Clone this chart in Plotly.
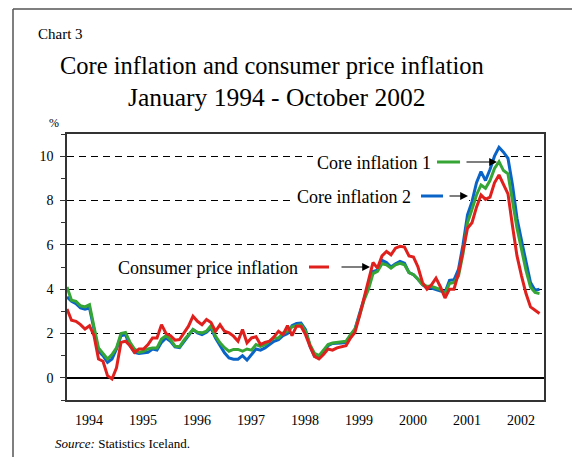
import plotly.graph_objects as go

# Monthly data, January 1994 - October 2002 (month index 0..105)
cpi = [3.1, 2.6, 2.55, 2.4, 2.2, 2.35, 1.9, 0.85, 0.75, 0.1, -0.05, 0.45,
       1.6, 1.65, 1.45, 1.15, 1.3, 1.3, 1.5, 1.8, 1.8, 2.4, 2.0, 1.9,
       1.7, 1.73, 2.03, 2.33, 2.78, 2.55, 2.4, 2.63, 2.5, 2.1, 2.4, 2.1,
       2.03, 1.88, 1.65, 2.18, 1.58, 1.8, 1.85, 1.5, 1.6, 1.65, 1.85, 2.1,
       1.95, 2.35, 1.9, 2.33, 2.33, 1.95, 1.42, 0.97, 0.85, 1.05, 1.3, 1.25,
       1.35, 1.4, 1.45, 1.8, 2.05, 2.8, 3.6, 4.5, 5.2, 4.95, 5.5, 5.7,
       5.55, 5.85, 5.93, 5.9, 5.5, 5.45, 5.0, 4.3, 4.0, 4.2, 4.5, 4.1,
       3.6, 4.0, 4.0, 4.72, 5.7, 6.75, 7.0, 7.7, 8.25, 8.05, 8.15, 8.8,
       9.15, 8.75, 8.3, 6.85, 5.5, 4.6, 3.8, 3.2, 3.05, 2.9]

core1 = [4.1, 3.5, 3.45, 3.25, 3.2, 3.3, 2.3, 1.35, 1.1, 0.85, 1.05, 1.35,
         2.0, 2.05, 1.6, 1.3, 1.15, 1.2, 1.3, 1.35, 1.35, 1.75, 1.9, 1.73,
         1.43, 1.4, 1.7, 1.95, 2.18, 2.06, 2.03, 2.1, 2.35, 1.88, 1.58, 1.36,
         1.2, 1.28, 1.28, 1.2, 1.3, 1.25, 1.5, 1.42, 1.5, 1.65, 1.8, 1.8,
         2.02, 2.1, 2.3, 2.35, 2.4, 2.1, 1.5, 1.1, 1.0, 1.25, 1.5, 1.57,
         1.6, 1.65, 1.65, 1.95, 2.2, 2.8, 3.5, 4.0, 4.7, 4.8, 5.15, 5.1,
         4.95, 5.1, 5.17, 5.1, 4.75, 4.65, 4.45, 4.2, 4.13, 4.13, 4.05, 3.98,
         3.8, 4.25, 4.3, 4.6, 5.6, 7.0, 7.6, 8.25, 8.7, 8.55, 8.9, 9.45,
         9.75, 9.35, 9.2, 7.9, 6.75, 5.8, 4.85, 4.1, 3.85, 3.8]

core2 = [3.65, 3.45, 3.35, 3.15, 3.1, 3.15, 2.2, 1.2, 1.0, 0.7, 0.85, 1.3,
         1.9, 1.95, 1.45, 1.15, 1.1, 1.13, 1.15, 1.3, 1.25, 1.6, 1.8, 1.65,
         1.4, 1.36, 1.65, 1.9, 2.18, 2.03, 1.95, 2.06, 2.25, 1.8, 1.43, 1.13,
         0.9, 0.84, 0.84, 1.0, 0.8, 1.05, 1.3, 1.25, 1.35, 1.5, 1.65, 1.72,
         1.9, 2.0, 2.35, 2.45, 2.47, 2.17, 1.42, 0.97, 0.9, 1.2, 1.45, 1.55,
         1.55, 1.57, 1.6, 1.9, 2.2, 2.9, 3.6, 4.2, 4.8, 4.85, 5.3, 5.2,
         5.0, 5.15, 5.25, 5.17, 4.75, 4.65, 4.45, 4.2, 4.05, 4.05, 3.98, 3.9,
         3.85, 4.4, 4.42, 4.9, 6.0, 7.35, 7.95, 8.8, 9.3, 8.9, 9.4, 10.0,
         10.4, 10.18, 9.9, 8.7, 7.2, 6.2, 5.2, 4.3, 3.95, 4.0]

years = ["1994", "1995", "1996", "1997", "1998", "1999", "2000", "2001", "2002"]
series_names = ["Core inflation 2", "Core inflation 1", "Consumer price inflation"]
colors = {"Core inflation 1": "#35a535", "Core inflation 2": "#0a64c8",
          "Consumer price inflation": "#e0201c"}

months = list(range(len(cpi)))
W, H = 572, 457
L, R, T, B = 67, 28, 134, 57
PW, PH = W - L - R, H - T - B
XR = [0, 106]
YR = [-1, 11]


def px(x):
    return (x - L) / PW


def py(y):
    return (H - B - y) / PH


def dx(x):
    return XR[0] + px(x) * (XR[1] - XR[0])


def dy(y):
    return YR[0] + py(y) * (YR[1] - YR[0])


SERIF = "Liberation Serif"

fig = go.Figure()
for name, vals in zip(series_names, [core2, core1, cpi]):
    fig.add_trace(go.Scatter(x=months, y=vals, mode="lines", name=name,
                             line=dict(color=colors[name], width=3),
                             showlegend=False, hoverinfo="skip"))

fig.update_layout(
    width=W, height=H,
    margin=dict(l=L, r=R, t=T, b=B),
    paper_bgcolor="white", plot_bgcolor="white",
    font=dict(family=SERIF, color="black", size=14),
)
fig.update_xaxes(
    range=XR, showgrid=False, zeroline=False,
    showline=True, mirror=True, linecolor="#333", linewidth=1.5,
    tickmode="array", tickvals=[4.9 + 12 * i for i in range(len(years))],
    ticktext=years, ticks="", ticklabelstandoff=6,
    tickfont=dict(family=SERIF, size=14),
)
fig.update_yaxes(
    range=YR, tick0=0, dtick=2,
    showgrid=True, gridcolor="black", gridwidth=1, griddash="7px,5px",
    zeroline=True, zerolinecolor="black", zerolinewidth=1.5,
    showline=True, mirror=True, linecolor="#333", linewidth=1.5,
    ticks="outside", ticklen=5, tickcolor="#333", tickwidth=1,
    minor=dict(dtick=1, tick0=0, ticks="outside", ticklen=4, tickcolor="#333", showgrid=False),
    ticklabelstandoff=4,
    tickfont=dict(family=SERIF, size=14),
)

ann = []
ann.append(dict(text="Chart 3", x=px(36), y=py(34), xref="paper", yref="paper",
                xanchor="left", yanchor="middle", showarrow=False,
                font=dict(family=SERIF, size=15)))
ann.append(dict(text="Core inflation and consumer price inflation", x=px(272), y=py(66),
                xref="paper", yref="paper", xanchor="center", yanchor="middle",
                showarrow=False, font=dict(family=SERIF, size=24.5)))
ann.append(dict(text="January 1994 - October 2002", x=px(276), y=py(98),
                xref="paper", yref="paper", xanchor="center", yanchor="middle",
                showarrow=False, font=dict(family=SERIF, size=25.5)))
ann.append(dict(text="%", x=px(54), y=py(123), xref="paper", yref="paper",
                xanchor="center", yanchor="middle", showarrow=False,
                font=dict(family=SERIF, size=12)))
ann.append(dict(text="<i>Source:</i> Statistics Iceland.", x=px(53), y=py(443),
                xref="paper", yref="paper", xanchor="left", yanchor="middle",
                showarrow=False, font=dict(family=SERIF, size=13)))

# series labels: (text, text right edge, y, dash x0, dash x1, arrow tail, arrow head)
labels = [
    ("Core inflation 1", 433, 163, 437, 460, 465, 497),
    ("Core inflation 2", 413, 197, 421, 443, 448, 468),
    ("Consumer price inflation", 300, 268, 309, 329, 340, 370),
]
# white boxes hiding the grid behind the two upper labels (between grid and traces)
masks = [(313, 500, 150, 172), (292, 469, 189, 207)]
shapes = []
for x0, x1, y0, y1 in masks:
    shapes.append(dict(type="rect", xref="x", yref="y", layer="between",
                       x0=dx(x0), x1=dx(x1), y0=dy(y1), y1=dy(y0),
                       fillcolor="white", line=dict(width=0)))
for text, xr, yc, d0, d1, a0, a1 in labels:
    ann.append(dict(text=text, x=px(xr), y=py(yc), xref="paper", yref="paper",
                    xanchor="right", yanchor="middle", showarrow=False,
                    font=dict(family=SERIF, size=18)))
    shapes.append(dict(type="line", xref="paper", yref="paper",
                       x0=px(d0), x1=px(d1), y0=py(yc - 1), y1=py(yc - 1),
                       line=dict(color=colors[text], width=3)))
    ann.append(dict(text="", x=px(a1), y=py(yc - 1), xref="paper", yref="paper",
                    ax=-(a1 - a0), ay=0, showarrow=True, arrowhead=2,
                    arrowsize=1.3, arrowwidth=1.2, arrowcolor="black"))

# outer frame (left and top edges)
shapes.append(dict(type="line", xref="paper", yref="paper", x0=px(13), x1=px(13),
                   y0=py(9), y1=py(H + 5), line=dict(color="#555", width=1.5)))
shapes.append(dict(type="line", xref="paper", yref="paper", x0=px(13), x1=px(W + 5),
                   y0=py(9), y1=py(9), line=dict(color="#555", width=1.5)))

fig.update_layout(annotations=ann, shapes=shapes)
fig.write_html("out.html", config={"displayModeBar": False},
               post_script="document.body.style.margin='0';")
